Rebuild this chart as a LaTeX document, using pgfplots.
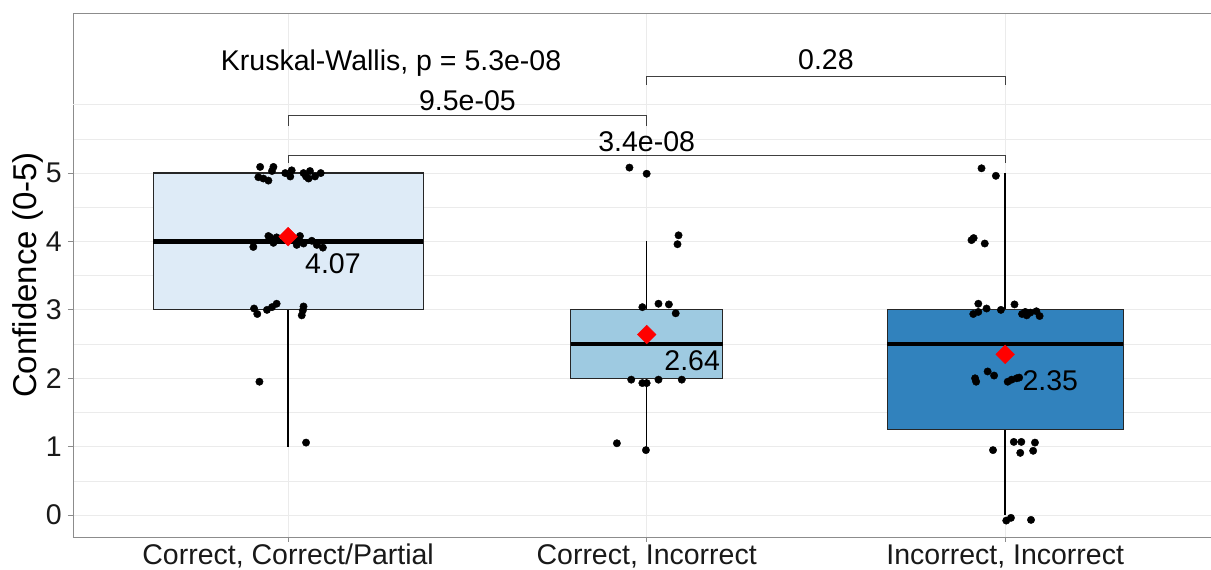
\documentclass[border=0pt]{standalone}
\usepackage{fontspec}
\setmainfont{Liberation Sans}
\usepackage{pgfplots}
\pgfplotsset{compat=1.18}
\usepgfplotslibrary{statistics}
\definecolor{b1}{HTML}{DEEBF7}
\definecolor{b2}{HTML}{9ECAE1}
\definecolor{b3}{HTML}{3182BD}
\definecolor{gridc}{HTML}{EBEBEB}
\definecolor{borderc}{HTML}{8C8C8C}
\definecolor{brc}{HTML}{404040}
\begin{document}
\begin{tikzpicture}
\begin{axis}[
 at={(0pt,0pt)}, anchor=south west,
 scale only axis, width=1138pt, height=524pt,
 xmin=0.4, xmax=3.574, ymin=-0.32, ymax=7.34,
 axis x line*=bottom, axis y line*=left,
 axis line style={borderc, line width=0.8pt},
 xtick={1,2,3},
 xticklabels={{Correct, Correct/Partial},{Correct, Incorrect},{Incorrect, Incorrect}},
 ytick={0,1,2,3,4,5},
 minor ytick={0.5,1.5,2.5,3.5,4.5,5.5},
 extra y ticks={6}, extra y tick labels={},
 extra y tick style={major tick length=0pt},
 grid=both,
 major grid style={gridc, line width=0.9pt},
 minor grid style={gridc, line width=0.7pt},
 minor tick length=0pt,
 tick align=outside, major tick length=5pt,
 tick style={borderc, line width=0.8pt},
 ticklabel style={font=\fontsize{28.5}{34}\selectfont, text=black!90},
 /pgf/number format/assume math mode=true,
 yticklabel style={anchor=east, inner sep=0pt, xshift=-6pt},
 xticklabel style={anchor=base, inner sep=0pt, yshift=-23pt},
 ylabel={Confidence (0-5)},
 ylabel style={font=\fontsize{33}{38}\selectfont, at={(axis description cs:-0.040,0.5)}, anchor=center},
 clip=false,
 boxplot/draw direction=y,
 boxplot/whisker extend=0,
 boxplot/every whisker/.style={line width=1.6pt, black},
 boxplot/every median/.style={line width=4.2pt, black},
 boxplot/every box/.style={line width=1.2pt, draw=black!85},
]
\addplot[fill=b1, draw=black!85, boxplot prepared={lower whisker=1, lower quartile=3, median=4, upper quartile=5, upper whisker=5, draw position=1, box extend=0.753}] coordinates {};
\addplot[fill=b2, draw=black!85, boxplot prepared={lower whisker=1, lower quartile=2, median=2.5, upper quartile=3, upper whisker=4, draw position=2, box extend=0.424}] coordinates {};
\addplot[fill=b3, draw=black!85, boxplot prepared={lower whisker=0, lower quartile=1.25, median=2.5, upper quartile=3, upper whisker=5, draw position=3, box extend=0.658}] coordinates {};

% jittered points
\addplot[only marks, mark=*, mark size=3.7pt, black] coordinates {
(0.922,5.09) (0.959,5.09) (0.955,5.03) (0.917,4.94) (0.931,4.92) (0.945,4.89)
(0.992,5.00) (1.010,5.04) (1.006,4.95) (1.043,5.00) (1.061,5.03) (1.057,4.92)
(1.075,4.95) (1.091,5.00) (1.050,4.95)
(0.945,4.08) (0.955,4.03) (0.959,3.98) (0.903,3.92) (0.968,4.06) (0.950,4.06)
(1.033,4.08) (1.029,4.02) (1.024,3.95) (1.043,3.97) (1.066,4.01) (1.080,3.95) (1.097,3.91)
(0.905,3.02) (0.914,2.94) (0.941,3.00) (0.955,3.04) (0.968,3.09) (1.043,3.05)
(1.038,2.92) (1.041,2.99)
(0.920,1.95) (1.050,1.06)
};
\addplot[only marks, mark=*, mark size=3.7pt, black] coordinates {
(1.952,5.08) (2.000,4.99) (2.089,4.09) (2.086,3.96)
(1.988,3.04) (2.033,3.09) (2.062,3.08) (2.081,2.95)
(1.957,1.98) (1.988,1.93) (2.000,1.93) (2.033,1.98) (2.098,1.98)
(1.917,1.05) (1.998,0.95)
};
\addplot[only marks, mark=*, mark size=3.7pt, black] coordinates {
(2.934,5.07) (2.974,4.96)
(2.906,4.02) (2.912,4.05) (2.943,3.97)
(2.925,3.09) (2.948,3.02) (2.911,2.94) (2.925,2.97) (2.988,3.00) (3.026,3.08)
(3.047,2.94) (3.060,2.92) (3.070,2.96) (3.087,2.98) (3.096,2.91) (3.056,2.97)
(2.916,2.00) (2.919,1.95) (2.951,2.10) (2.969,2.04) (3.007,1.95) (3.018,1.98)
(3.032,2.00) (3.039,2.01)
(2.966,0.95) (3.024,1.07) (3.045,1.07) (3.042,0.91) (3.083,1.06) (3.078,0.94)
(3.003,-0.08) (3.016,-0.04) (3.072,-0.07)
};
% means
\addplot[only marks, mark=square*, mark size=6.6pt, mark options={rotate=45}, red] coordinates {(1,4.07) (2,2.64) (3,2.35)};

\node[anchor=base west, inner sep=0pt, font=\fontsize{28.5}{34}\selectfont] at (axis cs:1.047,3.535) {4.07};
\node[anchor=base west, inner sep=0pt, font=\fontsize{28.5}{34}\selectfont] at (axis cs:2.049,2.11) {2.64};
\node[anchor=base west, inner sep=0pt, font=\fontsize{28.5}{34}\selectfont] at (axis cs:3.048,1.82) {2.35};

% brackets
\draw[brc, line width=0.8pt] (axis cs:1,5.146) -- (axis cs:1,5.263) -- (axis cs:3,5.263) -- (axis cs:3,5.146);
\draw[brc, line width=0.8pt] (axis cs:1,5.69) -- (axis cs:1,5.85) -- (axis cs:2,5.85) -- (axis cs:2,5.69);
\draw[brc, line width=0.8pt] (axis cs:2,6.29) -- (axis cs:2,6.42) -- (axis cs:3,6.42) -- (axis cs:3,6.29);
\node[anchor=base, inner sep=0pt, font=\fontsize{28.5}{34}\selectfont] at (axis cs:2,5.32) {3.4e-08};
\node[anchor=base, inner sep=0pt, font=\fontsize{28.5}{34}\selectfont] at (axis cs:1.5,5.92) {9.5e-05};
\node[anchor=base, inner sep=0pt, font=\fontsize{28.5}{34}\selectfont] at (axis cs:2.5,6.516) {0.28};
\node[anchor=base west, inner sep=0pt, font=\fontsize{28.5}{34}\selectfont] at (axis cs:0.812,6.506) {Kruskal-Wallis, p = 5.3e-08};

\draw[borderc, line width=0.8pt] (rel axis cs:0,1) -- (rel axis cs:1,1);
\end{axis}
\pgfresetboundingbox
\path[use as bounding box] (-73pt,-33pt) rectangle (1138pt,537pt);
\end{tikzpicture}
\end{document}
